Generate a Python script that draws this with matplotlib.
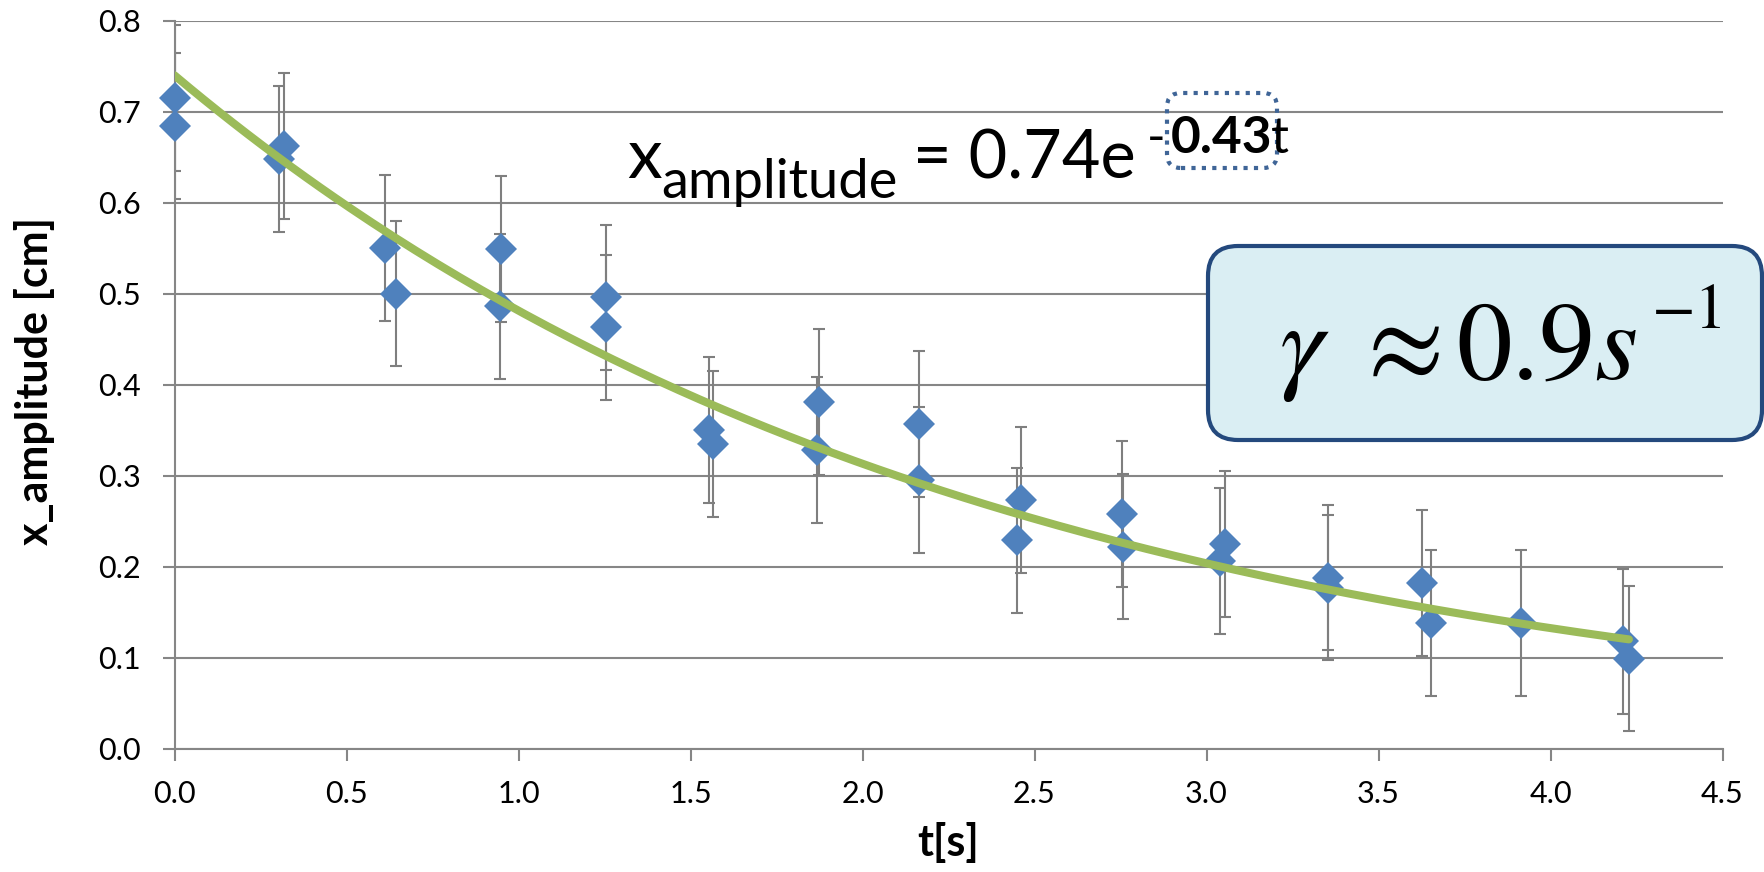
import numpy as np
import matplotlib
matplotlib.use("Agg")
import matplotlib.pyplot as plt
from matplotlib.patches import FancyBboxPatch
from matplotlib.transforms import IdentityTransform

# measured points (two readings per time step)
t_data = [0.00, 0.00, 0.317, 0.303, 0.612, 0.643, 0.949, 0.945, 1.253, 1.253,
          1.555, 1.565, 1.873, 1.869, 2.165, 2.165, 2.461, 2.450, 2.753, 2.758,
          3.054, 3.038, 3.353, 3.353, 3.625, 3.654, 3.913, 4.212, 4.228]
x_data = [0.715, 0.684, 0.662, 0.648, 0.550, 0.500, 0.549, 0.486, 0.496, 0.463,
          0.350, 0.335, 0.381, 0.328, 0.357, 0.295, 0.273, 0.229, 0.258, 0.222,
          0.225, 0.206, 0.188, 0.177, 0.182, 0.138, 0.138, 0.118, 0.099]
x_err = 0.08

# exponential trendline from the chart's equation
fit_a = 0.74
fit_b = 0.43

x_ticks = [0.0, 0.5, 1.0, 1.5, 2.0, 2.5, 3.0, 3.5, 4.0, 4.5]
y_ticks = [0.0, 0.1, 0.2, 0.3, 0.4, 0.5, 0.6, 0.7, 0.8]

plt.rcParams['font.family'] = ['Lato', 'DejaVu Sans']

grey = '#868686'
W, H = 1765, 872
fig = plt.figure(figsize=(W / 100, H / 100), dpi=100)
ax = fig.add_axes([174.5 / W, 123.3 / H, 1548 / W, 728 / H])

ax.errorbar(t_data, x_data, yerr=x_err, fmt='none', ecolor='#7f7f7f',
            elinewidth=1.5, capsize=4, capthick=1.5, zorder=2)
ax.plot(t_data, x_data, 'D', color='#4f81bd', markersize=16, zorder=3,
        markeredgewidth=0, clip_on=False)

t_fit = np.linspace(0, max(t_data), 200)
ax.plot(t_fit, fit_a * np.exp(-fit_b * t_fit), color='#9bbb59', lw=5.8,
        solid_capstyle='round', zorder=4)

ax.set_xlim(0, 4.5)
ax.set_ylim(0, 0.8)
ax.set_xticks(x_ticks)
ax.set_yticks(y_ticks)
ax.set_xticklabels([f'{v:.1f}' for v in x_ticks])
ax.set_yticklabels([f'{v:.1f}' for v in y_ticks])
ax.tick_params(axis='both', colors=grey, labelcolor='black', labelsize=22,
               width=1.5, length=8.5, direction='out')
ax.tick_params(axis='x', pad=14)
ax.tick_params(axis='y', pad=16)

ax.grid(axis='y', color=grey, lw=1.5)
ax.set_axisbelow(True)
for s in ['top', 'right']:
    ax.spines[s].set_visible(False)
for s in ['left', 'bottom']:
    ax.spines[s].set_color(grey)
    ax.spines[s].set_linewidth(1.5)

ax.set_xlabel('t[s]', fontsize=31, fontweight='bold')
ax.set_ylabel('x_amplitude [cm]', fontsize=31, fontweight='bold')
ax.xaxis.set_label_coords(0.5, -0.1)
ax.yaxis.set_label_coords(-0.077, 0.505)


def put(x, y, s, **kw):
    kw.setdefault('ha', 'left')
    fig.text(x / W, 1 - y / H, s, va='baseline', **kw)


# trendline equation
put(627, 178, 'x', fontsize=50)
put(661, 198, 'amplitude', fontsize=39)
put(913, 178, '= 0.74e', fontsize=48)
put(1147, 153, '-', fontsize=36)
put(1171, 153, '0.43', fontsize=37, fontweight='bold')
put(1271, 153, 't', fontsize=36)

dot_box = FancyBboxPatch((1167, H - 168), 110, 75,
                         boxstyle='round,pad=0,rounding_size=14',
                         fc='none', ec='#3f6597', lw=3,
                         linestyle=(0, (1, 1.5)), transform=IdentityTransform())
fig.add_artist(dot_box)

# gamma box
g_box = FancyBboxPatch((1208, H - 440), 554, 194,
                       boxstyle='round,pad=0,rounding_size=30',
                       fc='#daeef3', ec='#24497d', lw=3,
                       transform=IdentityTransform())
fig.add_artist(g_box)
stix = 'STIXGeneral'
put(1280, 379, '\u03b3', fontsize=80, family=stix, style='italic')
put(1368, 379, '\u2248', fontsize=80, family=stix)
put(1456, 379, '0.9', fontsize=80, family=stix)
put(1594, 379, 's', fontsize=80, family=stix, style='italic')
put(1652, 328, '\u22121', fontsize=46, family=stix)

fig.savefig('out.png', dpi=100)
